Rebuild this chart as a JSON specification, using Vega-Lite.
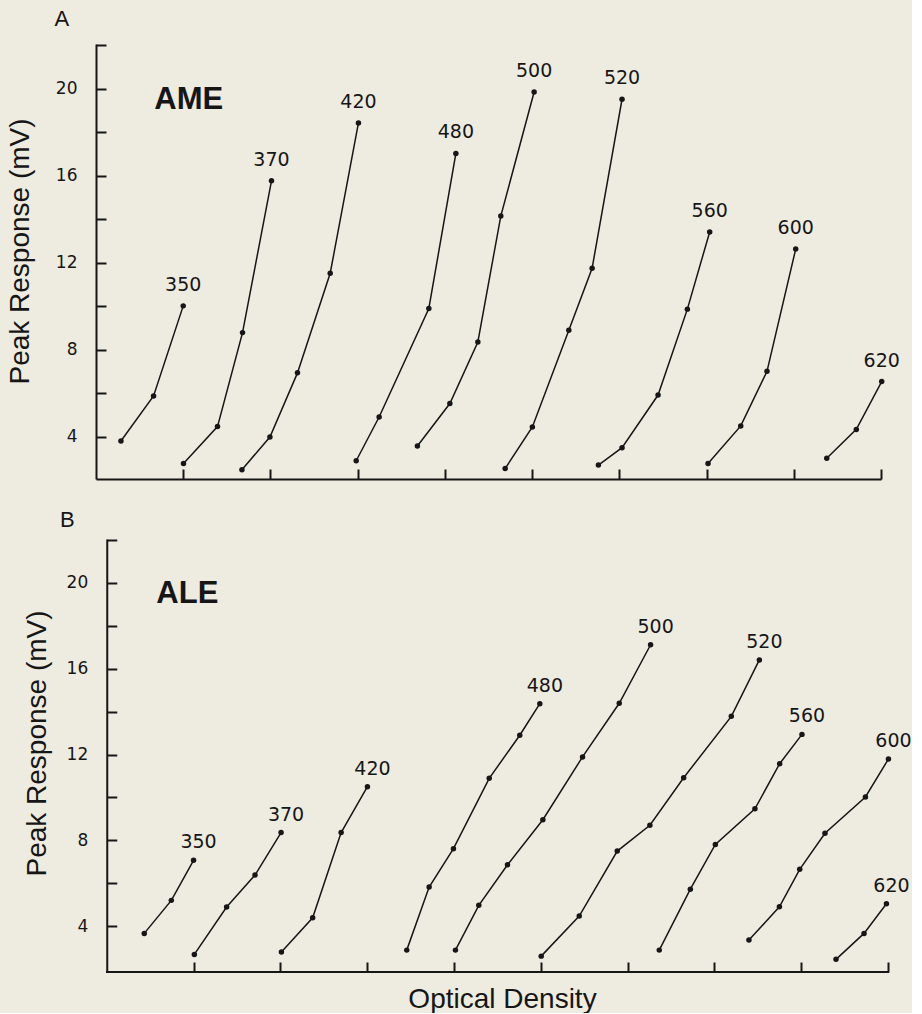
{
  "$schema": "https://vega.github.io/schema/vega-lite/v6.json",
  "background": "#eeebe1",
  "padding": {"left": 6, "top": 8, "right": 0, "bottom": 0},
  "spacing": 29,
  "config": {
    "view": {"stroke": null},
    "font": "Liberation Sans",
    "axis": {
      "grid": false,
      "domainColor": "#161616",
      "domainWidth": 2,
      "tickColor": "#161616",
      "tickWidth": 2,
      "tickSize": -10,
      "labelFont": "DejaVu Sans",
      "labelFontSize": 17,
      "labelColor": "#161616",
      "labelPadding": 29,
      "titleFont": "Liberation Sans",
      "titleFontSize": 28,
      "titleFontWeight": "normal",
      "titleColor": "#161616"
    }
  },
  "datasets": {
    "ame": [
      {"wavelength": "350", "density": 0.286, "response": 3.80},
      {"wavelength": "350", "density": 0.660, "response": 5.87},
      {"wavelength": "350", "density": 1.000, "response": 10.01},
      {"wavelength": "370", "density": 1.003, "response": 2.76},
      {"wavelength": "370", "density": 1.393, "response": 4.46},
      {"wavelength": "370", "density": 1.680, "response": 8.78},
      {"wavelength": "370", "density": 2.012, "response": 15.76},
      {"wavelength": "420", "density": 1.673, "response": 2.48},
      {"wavelength": "420", "density": 1.994, "response": 3.98},
      {"wavelength": "420", "density": 2.310, "response": 6.93},
      {"wavelength": "420", "density": 2.685, "response": 11.51},
      {"wavelength": "420", "density": 3.009, "response": 18.42},
      {"wavelength": "480", "density": 2.983, "response": 2.89},
      {"wavelength": "480", "density": 3.246, "response": 4.90},
      {"wavelength": "480", "density": 3.816, "response": 9.89},
      {"wavelength": "480", "density": 4.126, "response": 17.02},
      {"wavelength": "500", "density": 3.685, "response": 3.57},
      {"wavelength": "500", "density": 4.057, "response": 5.52},
      {"wavelength": "500", "density": 4.378, "response": 8.35},
      {"wavelength": "500", "density": 4.641, "response": 14.14},
      {"wavelength": "500", "density": 5.023, "response": 19.84},
      {"wavelength": "520", "density": 4.691, "response": 2.53},
      {"wavelength": "520", "density": 5.003, "response": 4.44},
      {"wavelength": "520", "density": 5.421, "response": 8.89},
      {"wavelength": "520", "density": 5.688, "response": 11.74},
      {"wavelength": "520", "density": 6.031, "response": 19.51},
      {"wavelength": "560", "density": 5.760, "response": 2.69},
      {"wavelength": "560", "density": 6.031, "response": 3.49},
      {"wavelength": "560", "density": 6.444, "response": 5.91},
      {"wavelength": "560", "density": 6.780, "response": 9.86},
      {"wavelength": "560", "density": 7.036, "response": 13.41},
      {"wavelength": "600", "density": 7.017, "response": 2.76},
      {"wavelength": "600", "density": 7.392, "response": 4.49},
      {"wavelength": "600", "density": 7.693, "response": 7.00},
      {"wavelength": "600", "density": 8.022, "response": 12.62},
      {"wavelength": "620", "density": 8.378, "response": 3.00},
      {"wavelength": "620", "density": 8.717, "response": 4.33},
      {"wavelength": "620", "density": 9.008, "response": 6.53}
    ],
    "ale": [
      {"wavelength": "350", "density": 0.432, "response": 3.66},
      {"wavelength": "350", "density": 0.744, "response": 5.20},
      {"wavelength": "350", "density": 1.000, "response": 7.07},
      {"wavelength": "370", "density": 1.009, "response": 2.68},
      {"wavelength": "370", "density": 1.381, "response": 4.89},
      {"wavelength": "370", "density": 1.708, "response": 6.38},
      {"wavelength": "370", "density": 2.008, "response": 8.36},
      {"wavelength": "420", "density": 2.012, "response": 2.79},
      {"wavelength": "420", "density": 2.372, "response": 4.39},
      {"wavelength": "420", "density": 2.700, "response": 8.36},
      {"wavelength": "420", "density": 3.003, "response": 10.50},
      {"wavelength": "480", "density": 3.456, "response": 2.88},
      {"wavelength": "480", "density": 3.714, "response": 5.82},
      {"wavelength": "480", "density": 3.994, "response": 7.61},
      {"wavelength": "480", "density": 4.406, "response": 10.89},
      {"wavelength": "480", "density": 4.758, "response": 12.90},
      {"wavelength": "480", "density": 4.989, "response": 14.37},
      {"wavelength": "500", "density": 4.017, "response": 2.88},
      {"wavelength": "500", "density": 4.286, "response": 4.97},
      {"wavelength": "500", "density": 4.617, "response": 6.86},
      {"wavelength": "500", "density": 5.024, "response": 8.96},
      {"wavelength": "500", "density": 5.481, "response": 11.89},
      {"wavelength": "500", "density": 5.904, "response": 14.39},
      {"wavelength": "500", "density": 6.265, "response": 17.12},
      {"wavelength": "520", "density": 5.005, "response": 2.60},
      {"wavelength": "520", "density": 5.443, "response": 4.47},
      {"wavelength": "520", "density": 5.881, "response": 7.50},
      {"wavelength": "520", "density": 6.257, "response": 8.70},
      {"wavelength": "520", "density": 6.646, "response": 10.92},
      {"wavelength": "520", "density": 7.195, "response": 13.78},
      {"wavelength": "520", "density": 7.518, "response": 16.41},
      {"wavelength": "560", "density": 6.365, "response": 2.88},
      {"wavelength": "560", "density": 6.723, "response": 5.72},
      {"wavelength": "560", "density": 7.011, "response": 7.81},
      {"wavelength": "560", "density": 7.467, "response": 9.47},
      {"wavelength": "560", "density": 7.752, "response": 11.57},
      {"wavelength": "560", "density": 8.009, "response": 12.94},
      {"wavelength": "600", "density": 7.398, "response": 3.35},
      {"wavelength": "600", "density": 7.749, "response": 4.90},
      {"wavelength": "600", "density": 7.983, "response": 6.65},
      {"wavelength": "600", "density": 8.274, "response": 8.33},
      {"wavelength": "600", "density": 8.740, "response": 10.02},
      {"wavelength": "600", "density": 9.005, "response": 11.79},
      {"wavelength": "620", "density": 8.401, "response": 2.45},
      {"wavelength": "620", "density": 8.724, "response": 3.66},
      {"wavelength": "620", "density": 8.982, "response": 5.04}
    ]
  },
  "vconcat": [
    {
      "width": 785,
      "height": 435,
      "title": {"text": "A", "anchor": "start", "font": "Liberation Sans", "fontSize": 22, "fontWeight": "normal", "color": "#161616", "baseline": "alphabetic", "dx": 48, "offset": -4},
      "data": {"name": "ame"},
      "encoding": {
        "x": {"field": "density", "type": "quantitative", "scale": {"domain": [0, 9], "nice": false, "zero": false}, "axis": {"values": [1, 2, 3, 4, 5, 6, 7, 8, 9], "labels": false, "title": null}},
        "y": {"field": "response", "type": "quantitative", "scale": {"domain": [2.05, 22.05], "nice": false, "zero": false}, "axis": {"values": [4, 6, 8, 10, 12, 14, 16, 18, 20, 22], "labelExpr": "datum.value % 4 === 0 ? datum.label : ''", "title": "Peak Response (mV)", "titlePadding": 20.75, "titleY": 207}}
      },
      "layer": [
        {"mark": {"type": "line", "color": "#161616", "strokeWidth": 1.5}, "encoding": {"detail": {"field": "wavelength"}}},
        {"mark": {"type": "point", "filled": true, "color": "#161616", "size": 30, "opacity": 1}},
        {
          "transform": [
            {"joinaggregate": [{"op": "max", "field": "density", "as": "dmax"}], "groupby": ["wavelength"]},
            {"filter": "datum.density === datum.dmax"}
          ],
          "mark": {"type": "text", "font": "DejaVu Sans", "fontSize": 19, "dy": -21, "baseline": "middle", "color": "#161616"},
          "encoding": {"text": {"field": "wavelength"}}
        },
        {
          "data": {"values": [{"density": 0.668, "response": 19.06, "name": "AME"}]},
          "mark": {"type": "text", "align": "left", "baseline": "alphabetic", "font": "Liberation Sans", "fontSize": 31, "fontWeight": "bold", "color": "#161616"},
          "encoding": {"text": {"field": "name"}}
        }
      ]
    },
    {
      "width": 792,
      "height": 433,
      "title": {"text": "B", "anchor": "start", "font": "Liberation Sans", "fontSize": 22, "fontWeight": "normal", "color": "#161616", "baseline": "alphabetic", "dx": 37, "offset": -10},
      "data": {"name": "ale"},
      "encoding": {
        "x": {"field": "density", "type": "quantitative", "scale": {"domain": [-0.1239, 9], "nice": false, "zero": false}, "axis": {"values": [1, 2, 3, 4, 5, 6, 7, 8, 9], "labels": false, "domain": false, "title": "Optical Density", "titlePadding": 12, "titleX": 406}},
        "y": {"field": "response", "type": "quantitative", "scale": {"domain": [1.86, 22.05], "nice": false, "zero": false}, "axis": {"offset": -10.75, "values": [4, 6, 8, 10, 12, 14, 16, 18, 20, 22], "labelExpr": "datum.value % 4 === 0 ? datum.label : ''", "title": "Peak Response (mV)", "titlePadding": 15, "titleY": 204}}
      },
      "layer": [
        {
          "mark": {"type": "rule", "color": "#161616", "strokeWidth": 2},
          "encoding": {"x": {"datum": -0.006}, "x2": {"datum": 9.006}, "y": {"datum": 1.86}}
        },
        {"mark": {"type": "line", "color": "#161616", "strokeWidth": 1.5}, "encoding": {"detail": {"field": "wavelength"}}},
        {"mark": {"type": "point", "filled": true, "color": "#161616", "size": 30, "opacity": 1}},
        {
          "transform": [
            {"joinaggregate": [{"op": "max", "field": "density", "as": "dmax"}], "groupby": ["wavelength"]},
            {"filter": "datum.density === datum.dmax"}
          ],
          "mark": {"type": "text", "font": "DejaVu Sans", "fontSize": 19, "dy": -18, "dx": 5, "baseline": "middle", "color": "#161616"},
          "encoding": {"text": {"field": "wavelength"}}
        },
        {
          "data": {"values": [{"density": 0.571, "response": 19.06, "name": "ALE"}]},
          "mark": {"type": "text", "align": "left", "baseline": "alphabetic", "font": "Liberation Sans", "fontSize": 31, "fontWeight": "bold", "color": "#161616"},
          "encoding": {"text": {"field": "name"}}
        }
      ]
    }
  ]
}
